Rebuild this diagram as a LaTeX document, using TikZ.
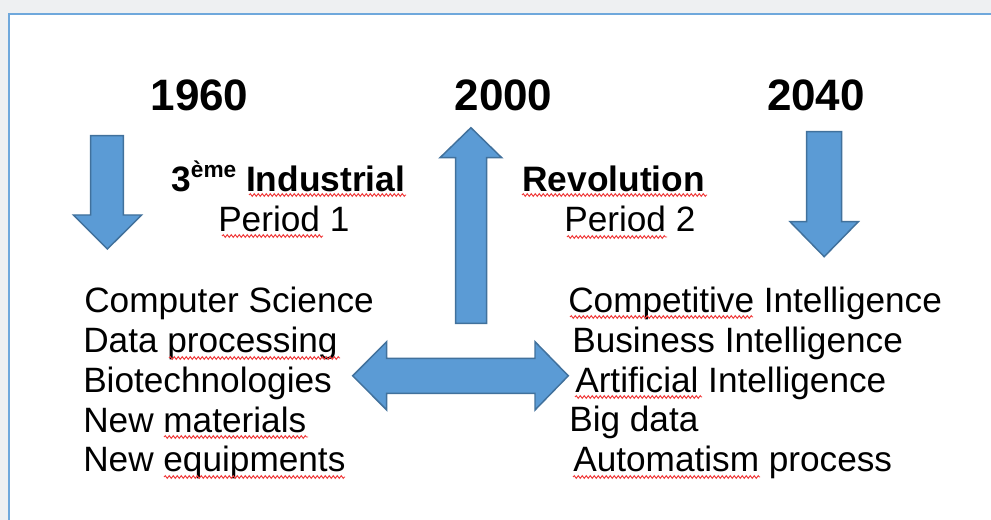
\documentclass[tikz,border=0pt]{standalone}
\usepackage{fontspec}
\setmainfont{Liberation Sans}
\usetikzlibrary{decorations.pathmorphing}
\definecolor{arrowfill}{HTML}{5B9BD5}
\definecolor{arrowline}{HTML}{41719C}
\definecolor{framebg}{HTML}{EEF0F2}
\definecolor{frameline}{HTML}{6FA8DC}
\definecolor{squig}{HTML}{F03C3C}
\begin{document}
\begin{tikzpicture}[x=0.75pt,y=-0.75pt,
  year/.style={font=\fontsize{33}{33}\selectfont\bfseries, anchor=base, inner sep=0pt},
  headtxt/.style={font=\fontsize{26.5}{26.5}\selectfont\bfseries, anchor=base west, inner sep=0pt},
  item/.style={font=\fontsize{26.4}{26.4}\selectfont, anchor=base west, inner sep=0pt},
  blockarrow/.style={fill=arrowfill, draw=arrowline, line width=1.1pt, line join=miter},
  squiggle/.style={draw=squig, line width=0.7pt, decorate, decoration={snake, amplitude=1pt, segment length=3pt}}]
\useasboundingbox (0,0) rectangle (991,520);
% frame
\fill[framebg] (0,0) rectangle (991,520);
\fill[white] (9,14) rectangle (991,520);
\draw[frameline, line width=1.5pt] (9,520) -- (9,14) -- (991,14);
% years
\node[year] (y1960) at (199.5,111) {1960};
\node[year] (y2000) at (503.5,111) {2000};
\node[year] (y2040) at (816,111) {2040};
% headings
\node[headtxt] (ind) at (171,192) {3\raisebox{0.42em}{\fontsize{17}{17}\selectfont ème} Industrial};
\node[headtxt] (rev) at (522,192) {Revolution};
\node[item] (p1) at (218,231) {Period 1};
\node[item] (p2) at (564,231) {Period 2};
% left list
\node[item] (l1) at (84,312) {Computer Science};
\node[item] (l2) at (83,352) {Data processing};
\node[item] (l3) at (83,392) {Biotechnologies};
\node[item] (l4) at (83,432) {New materials};
\node[item] (l5) at (83,471) {New equipments};
% right list
\node[item] (r1) at (568,312) {Competitive Intelligence};
\node[item] (r2) at (572,352) {Business Intelligence};
\node[item] (r3) at (575,392) {Artificial Intelligence};
\node[item] (r4) at (569,431) {Big data};
\node[item] (r5) at (573,471) {Automatism process};
% block arrows
\draw[blockarrow] (90.7,135.7) -- (123.3,135.7) -- (123.3,215) -- (141.7,215) -- (107.4,249) -- (73.3,215) -- (90.7,215) -- cycle;
\draw[blockarrow] (455.7,323.3) -- (486.7,323.3) -- (486.7,157.7) -- (501.7,157.7) -- (470.9,127.7) -- (440,157.7) -- (455.7,157.7) -- cycle;
\draw[blockarrow] (806.7,131.7) -- (841.7,131.7) -- (841.7,221.7) -- (858.3,221.7) -- (824.2,256.7) -- (790,221.7) -- (806.7,221.7) -- cycle;
\draw[blockarrow] (352.7,375.8) -- (386.7,341.7) -- (386.7,358.3) -- (535,358.3) -- (535,341.7) -- (568.3,375.8) -- (535,410) -- (535,393.3) -- (386.7,393.3) -- (386.7,410) -- cycle;
% spelling squiggles
\draw[squiggle] (249,195) -- (406,195);
\draw[squiggle] (222,236) -- (323,236);
\draw[squiggle] (522,195) -- (707,195);
\draw[squiggle] (567,237) -- (667,237);
\draw[squiggle] (169,358) -- (340,358);
\draw[squiggle] (164,437) -- (308,437);
\draw[squiggle] (164,477) -- (345,477);
\draw[squiggle] (570,317) -- (753,317);
\draw[squiggle] (575,397) -- (702,397);
\draw[squiggle] (573,477) -- (760,477);
\end{tikzpicture}
\end{document}
